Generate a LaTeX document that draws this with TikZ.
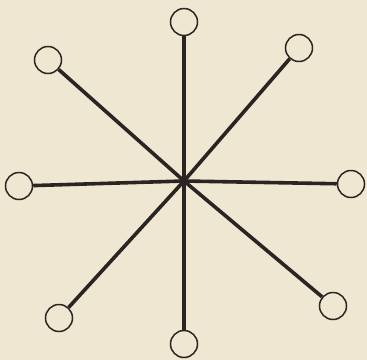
\documentclass[tikz,border=0pt]{standalone}
\usepackage{xcolor}
\usepackage{tikz}
\definecolor{paperbg}{HTML}{F0E7D2}
\definecolor{ink}{HTML}{2A2522}

\begin{document}
\begin{tikzpicture}[x=1bp, y=-1bp,
  vertex/.style={draw=ink, circle, line width=1.5bp, fill=paperbg,
                 minimum size=27bp, inner sep=0pt},
  spoke/.style={draw=ink, line width=3.6bp}
]
% Paper
\fill[paperbg] (0,0) rectangle (367,360);
\useasboundingbox (0,0) rectangle (367,360);

% Hub
\coordinate (hub) at (184,181);

% Outer vertices
\node[vertex] (top) at (184,22) {};
\node[vertex] (topleft) at (48,60) {};
\node[vertex] (topright) at (299,48) {};
\node[vertex] (left) at (19,186) {};
\node[vertex] (right) at (351,184) {};
\node[vertex] (botleft) at (59,318) {};
\node[vertex] (bot) at (184,344) {};
\node[vertex] (botright) at (333,306) {};

% Spokes
\foreach \v in {top, topleft, topright, left, right, botleft, bot, botright}
  \draw[spoke] (hub) -- (\v);
\end{tikzpicture}
\end{document}
